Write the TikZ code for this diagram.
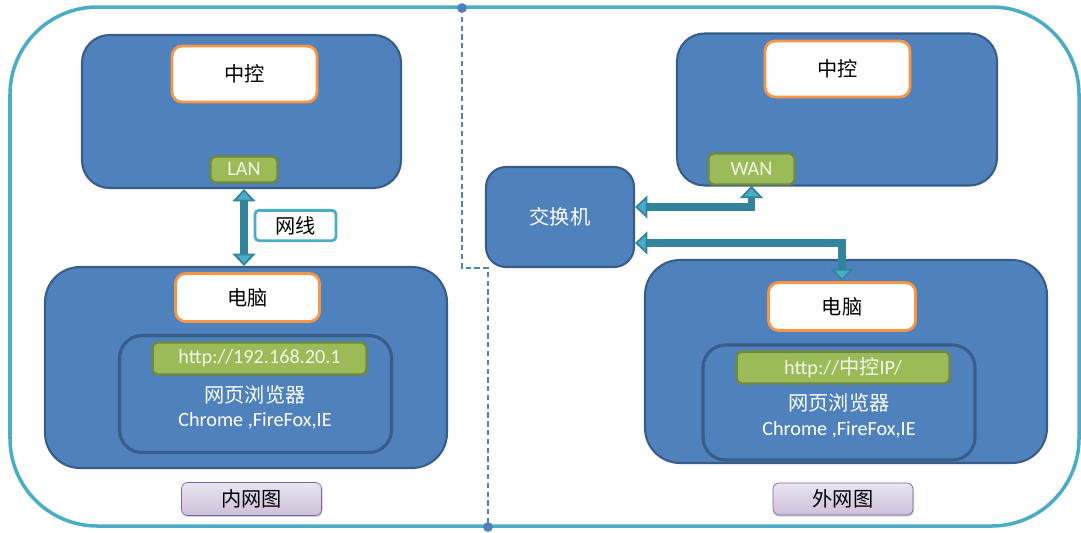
\documentclass[tikz,border=0pt]{standalone}
\usepackage{fontspec}
\setmainfont{Carlito}
\newfontfamily\cjk{Noto Sans CJK SC}
\usepackage{tikz}
\usetikzlibrary{positioning,arrows.meta,shadows}

\definecolor{BOX_BLUE}{HTML}{4F81BD}
\definecolor{BOX_EDGE}{HTML}{385D8A}
\definecolor{PC_ORANGE}{HTML}{F79646}
\definecolor{PORT_GREEN}{HTML}{9BBB59}
\definecolor{PORT_EDGE}{HTML}{71893F}
\definecolor{PORT_TEXT}{HTML}{F2F6E9}
\definecolor{LINK_DARK}{HTML}{31849B}
\definecolor{LINK_LIGHT}{HTML}{4BACC6}
\definecolor{TAG_TOP}{HTML}{EAE5F0}
\definecolor{TAG_BOT}{HTML}{CCC0DA}
\definecolor{TAG_EDGE}{HTML}{8064A2}

\tikzstyle{layer}=[rectangle, rounded corners, align=center, font=\fontsize{11.5}{14}\selectfont]
\tikzstyle{zone}=[layer, fill=BOX_BLUE, draw=BOX_EDGE, line width=1.2pt, text=white, rounded corners=0.55cm]
\tikzstyle{browser}=[zone, line width=1.8pt, rounded corners=0.45cm]
\tikzstyle{device}=[layer, fill=white, draw=PC_ORANGE, line width=1.6pt, rounded corners=0.2cm]
\tikzstyle{port}=[layer, fill=PORT_GREEN, draw=PORT_EDGE, line width=1.4pt, rounded corners=0.1cm, text=PORT_TEXT]
\tikzstyle{cable}=[layer, fill=white, draw=LINK_LIGHT, line width=1.6pt, rounded corners=0.08cm]
\tikzstyle{tag}=[layer, draw=TAG_EDGE, top color=TAG_TOP, bottom color=TAG_BOT, rounded corners=0.12cm, drop shadow={opacity=0.35,shadow xshift=0.6pt,shadow yshift=-0.9pt}]
\tikzstyle{wtext}=[layer, text=white, inner sep=1pt]
\tikzstyle{link}=[draw=LINK_DARK, line width=4.3pt, >={Triangle[width=13pt,length=7pt,fill=LINK_LIGHT,line width=1pt]}, <->]

\begin{document}
\begin{tikzpicture}[x=0.02cm, y=-0.02cm, node distance=0.1cm and 0cm]
      \useasboundingbox (0,0) rectangle (1081,532);

      % frame round both networks
      \draw[LINK_LIGHT, line width=2pt, rounded corners=1.75cm] (10,7) rectangle (1079,526);

      \coordinate (TOPPIN) at (462,8);
      \coordinate (BOTPIN) at (488,527);
      \draw[BOX_BLUE, line width=0.8pt, dash pattern=on 3pt off 2pt] (TOPPIN) -- ++(0,260) -| (BOTPIN);
      \fill[BOX_BLUE] (TOPPIN) circle (2.8pt);
      \fill[BOX_BLUE] (BOTPIN) circle (2.8pt);

      %%%%%%%%%%%%%%%%%%%%%%%%%%%%%%%%%%%%%%%%%%%%%%%%%
      % INTRANET
      %%%%%%%%%%%%%%%%%%%%%%%%%%%%%%%%%%%%%%%%%%%%%%%%%
      \node[zone, minimum width=6.38cm, minimum height=3.06cm] (CTRL1) at (241.5,111.5) {};
      \node[device, minimum width=2.9cm, minimum height=1.12cm] (ZK1) at (244.5,74) {\cjk 中控};
      \node[port, minimum width=1.34cm, minimum height=0.52cm] (LAN) at (244,169.5) {LAN};

      \node[zone, minimum width=8.04cm, minimum height=4.02cm, rounded corners=0.7cm] (PC1) at (246,367.5) {};
      \node[device, minimum width=2.88cm, minimum height=0.96cm] (DN1) at (247.5,297.5) {\cjk 电脑};
      \node[browser, minimum width=5.44cm, minimum height=2.34cm] (BR1) at (255.5,394) {};
      \node[port, minimum width=4.28cm, minimum height=0.64cm] (URL1) at (259.5,358.5) {http://192.168.20.1};
      \node[wtext] (WY1) at (255,395) {\cjk 网页浏览器};
      \node[wtext] (BW1) at (255,421) {Chrome ,FireFox,IE};

      \draw[link] (CTRL1.south -| LAN) -- (PC1.north -| LAN);
      \node[cable, minimum width=1.62cm, minimum height=0.5cm] (WX) at (295.5,225.5) {\cjk 网线};

      \node[tag, minimum width=2.8cm, minimum height=0.66cm] (TAG1) at (251.5,499) {\cjk 内网图};

      %%%%%%%%%%%%%%%%%%%%%%%%%%%%%%%%%%%%%%%%%%%%%%%%%
      % EXTRANET
      %%%%%%%%%%%%%%%%%%%%%%%%%%%%%%%%%%%%%%%%%%%%%%%%%
      \node[zone, minimum width=6.4cm, minimum height=3.04cm] (CTRL2) at (837,109.5) {};
      \node[device, minimum width=2.9cm, minimum height=1.12cm] (ZK2) at (837.5,69) {\cjk 中控};
      \node[port, minimum width=1.72cm, minimum height=0.62cm] (WAN) at (751.5,169) {WAN};

      \node[zone, minimum width=2.96cm, minimum height=2cm, rounded corners=0.4cm] (SW) at (560,217) {\cjk 交换机};

      \node[zone, minimum width=8.04cm, minimum height=4.06cm, rounded corners=0.7cm] (PC2) at (846,361.5) {};
      \node[device, minimum width=2.94cm, minimum height=0.96cm] (DN2) at (842,306.5) {\cjk 电脑};
      \node[browser, minimum width=5.44cm, minimum height=2.3cm] (BR2) at (839,402.5) {};
      \node[port, minimum width=4.26cm, minimum height=0.6cm] (URL2) at (843,367.5) {http://{\cjk 中控}IP/};
      \node[wtext] (WY2) at (839,403) {\cjk 网页浏览器};
      \node[wtext] (BW2) at (839,430) {Chrome ,FireFox,IE};

      \draw[link] ([yshift=0.2cm]SW.east) -| (WAN.south);
      \draw[link] ([yshift=-0.52cm]SW.east) -| (DN2.north);

      \node[tag, minimum width=2.8cm, minimum height=0.64cm] (TAG2) at (843,499) {\cjk 外网图};

\end{tikzpicture}
\end{document}
